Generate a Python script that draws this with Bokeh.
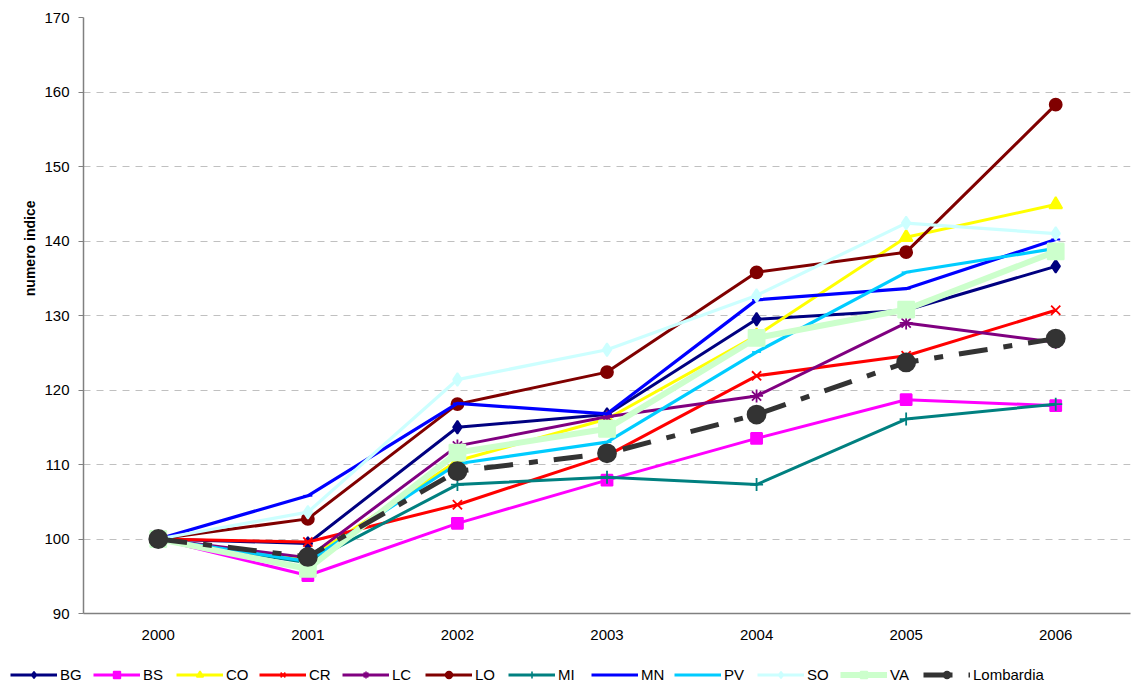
from bokeh.plotting import figure
from bokeh.layouts import column, row
from bokeh.models import FactorRange, Range1d, Legend, LegendItem, FixedTicker, Title
from bokeh.embed import file_html
from bokeh.resources import INLINE

years = ["2000", "2001", "2002", "2003", "2004", "2005", "2006"]
BG = [100, 99.4, 115.0, 116.7, 129.5, 130.7, 136.6]
BS = [100, 95.1, 102.1, 107.9, 113.5, 118.7, 117.9]
CO = [100, 97.3, 110.5, 116.1, 127.3, 140.5, 144.9]
CR = [100, 99.6, 104.6, 111.2, 121.9, 124.6, 130.7]
LC = [100, 97.5, 112.5, 116.4, 119.2, 129.0, 126.4]
LO = [100, 102.7, 118.1, 122.4, 135.8, 138.5, 158.3]
MI = [100, 96.8, 107.3, 108.3, 107.3, 116.1, 118.1]
MN = [100, 105.8, 118.2, 116.8, 132.1, 133.6, 140.2]
PV = [100, 97.0, 110.1, 113.0, 125.1, 135.8, 139.0]
SO = [100, 103.6, 121.4, 125.4, 132.7, 142.4, 141.0]
VA = [100, 96.0, 111.6, 114.8, 127.0, 130.8, 138.6]
Lombardia = [100, 97.6, 109.1, 111.5, 116.7, 123.7, 126.9]
y_ticks = [90, 100, 110, 120, 130, 140, 150, 160, 170]

FONT = "Liberation Sans"

p = figure(width=1138, height=650, x_range=FactorRange(factors=years, range_padding=0),
           y_range=Range1d(90, 170), output_backend="svg", toolbar_location=None,
           min_border_left=83, min_border_top=17, min_border_right=8, min_border_bottom=37)
p.outline_line_color = None
p.background_fill_color = "white"

p.xgrid.grid_line_color = None
p.ygrid.grid_line_color = "#c0c0c0"
p.ygrid.grid_line_dash = "7 6"
p.ygrid.grid_line_width = 1

p.yaxis.ticker = FixedTicker(ticks=y_ticks)
p.yaxis.minor_tick_line_color = None
p.yaxis.major_tick_out = 5
p.yaxis.major_tick_in = 0
p.yaxis.axis_line_color = "#808080"
p.yaxis.axis_line_width = 1.5
p.yaxis.major_tick_line_color = "#808080"
p.yaxis.major_label_text_font = FONT
p.yaxis.major_label_text_font_size = "15px"
p.yaxis.major_label_text_color = "#000000"
p.yaxis.major_label_standoff = 9

p.add_layout(Title(text="numero indice", align="right", offset=183, standoff=8,
                   text_font=FONT, text_font_style="bold", text_font_size="14px",
                   text_color="#000000"), "left")

p.xaxis.axis_line_color = "#808080"
p.xaxis.axis_line_width = 1.5
p.xaxis.major_tick_line_color = None
p.xaxis.major_tick_out = 0
p.xaxis.major_label_text_font = FONT
p.xaxis.major_label_text_font_size = "15px"
p.xaxis.major_label_text_color = "#000000"
p.xaxis.major_label_standoff = 16

series = [
    ("BG", BG, "#000080", 3, "diamond", 13, None),
    ("BS", BS, "#FF00FF", 3, "square", 11, None),
    ("CO", CO, "#FFFF00", 3, "triangle", 13, None),
    ("CR", CR, "#FF0000", 3, "x", 13, None),
    ("LC", LC, "#800080", 3, "asterisk", 13, None),
    ("LO", LO, "#800000", 3, "circle", 12, None),
    ("MI", MI, "#008080", 3, "cross", 13, None),
    ("MN", MN, "#0000FF", 3.2, "dash", 9, None),
    ("PV", PV, "#00CCFF", 3.2, "dash", 9, None),
    ("SO", SO, "#CCFFFF", 3.2, "diamond", 13, None),
    ("VA", VA, "#CCFFCC", 6.0, "square", 16, None),
    ("Lombardia", Lombardia, "#333333", 5.0, "circle", 18, "29 16 9 16"),
]

# legend strip below the chart; its renderers use the same series but lie outside its view
pl = figure(width=1138, height=34, x_range=FactorRange(factors=years), y_range=Range1d(0, 1),
            output_backend="svg", toolbar_location=None, x_axis_type=None, y_axis_type=None,
            min_border_left=0, min_border_right=0, min_border_top=0, min_border_bottom=0)
pl.outline_line_color = None
pl.grid.visible = False

items = []
for name, vals, color, lw, marker, size, dash in series:
    kw = {}
    if dash:
        kw["line_dash"] = dash
    p.line(years, vals, line_color=color, line_width=lw, **kw)
    p.scatter(years, vals, marker=marker, size=size, line_color=color,
              fill_color=color, line_width=1.8)
    l1 = pl.line(years, vals, line_color=color, line_width=lw, **kw)
    l2 = pl.scatter(years, vals, marker=marker, size=size * 0.85, line_color=color,
                    fill_color=color, line_width=1.6)
    items.append(LegendItem(label=name, renderers=[l1, l2], index=0))

legend = Legend(items=items, orientation="horizontal", glyph_width=47, glyph_height=17,
                label_width=24, label_height=17, label_standoff=3, spacing=9, padding=0, margin=0,
                label_text_font=FONT, label_text_font_size="15px",
                label_text_color="#000000", border_line_color=None,
                background_fill_alpha=0, location=(10, 1))
pl.add_layout(legend, "center")

open("out.html", "w").write(file_html(column(p, row(pl), spacing=0), INLINE))
